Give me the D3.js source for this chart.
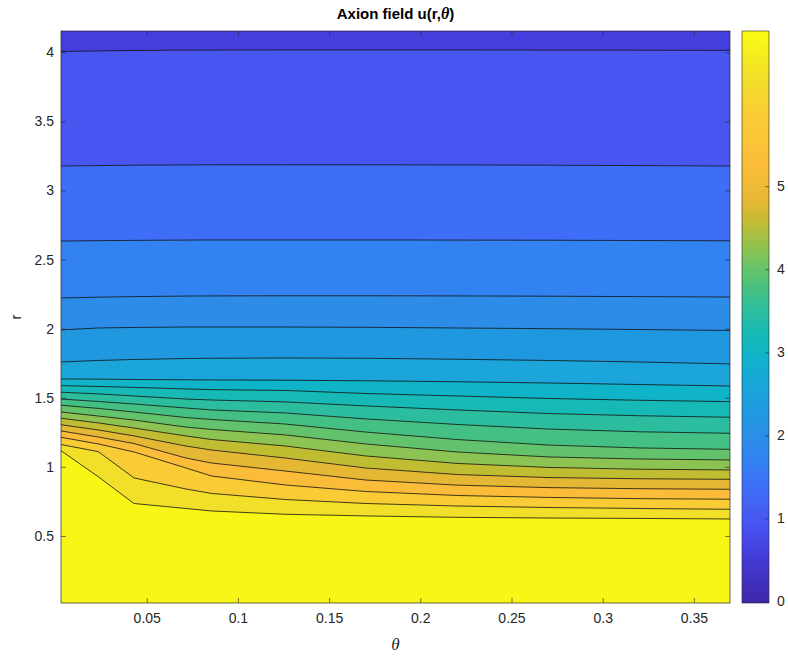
<!DOCTYPE html>
<html><head><meta charset="utf-8">
<script src="https://cdn.jsdelivr.net/npm/d3@7"></script>
<style>
body{margin:0;background:#fff}
text{font-family:Helvetica, Arial, "Liberation Sans", sans-serif;}
</style>
</head><body>
<svg id="c" width="788" height="656"></svg>
<script>
// ---------------- data ----------------
const theta = [0.003, 0.0235, 0.043, 0.0715, 0.0855, 0.126, 0.17, 0.22, 0.27, 0.32, 0.3698];
const thetaRange = [0.003, 0.3698];
const rRange = [0.015, 4.154];
const colorRange = [-0.02, 6.87];
const backgroundLevel = 0.60;
const contourLevels = [0.945, 1.36, 1.70, 1.94, 2.25, 2.56, 2.98, 3.22, 3.49, 3.74, 3.98, 4.25, 4.56, 4.80, 5.22, 5.84, 6.32, 6.77];
const r01 = [4.006, 4.010, 4.013, 4.016, 4.016, 4.017, 4.017, 4.017, 4.016, 4.015, 4.014];
const r02 = [3.177, 3.180, 3.183, 3.185, 3.186, 3.186, 3.186, 3.185, 3.183, 3.180, 3.177];
const r03 = [2.634, 2.637, 2.639, 2.641, 2.642, 2.642, 2.642, 2.641, 2.640, 2.638, 2.636];
const r04 = [2.222, 2.228, 2.232, 2.236, 2.237, 2.238, 2.238, 2.237, 2.235, 2.232, 2.229];
const r05 = [1.991, 2.005, 2.009, 2.012, 2.012, 2.012, 2.010, 2.005, 2.000, 1.994, 1.987];
const r06 = [1.759, 1.770, 1.777, 1.784, 1.786, 1.788, 1.786, 1.779, 1.770, 1.759, 1.745];
const r07 = [1.636, 1.635, 1.632, 1.630, 1.629, 1.627, 1.623, 1.616, 1.607, 1.596, 1.585];
const r08 = [1.588, 1.582, 1.575, 1.564, 1.559, 1.553, 1.531, 1.513, 1.495, 1.482, 1.472];
const r09 = [1.540, 1.528, 1.513, 1.491, 1.484, 1.470, 1.441, 1.412, 1.386, 1.370, 1.359];
const r10 = [1.491, 1.473, 1.455, 1.426, 1.412, 1.390, 1.347, 1.307, 1.274, 1.254, 1.243];
const r11 = [1.446, 1.423, 1.397, 1.357, 1.343, 1.310, 1.252, 1.198, 1.158, 1.137, 1.127];
const r12 = [1.397, 1.368, 1.339, 1.288, 1.271, 1.231, 1.166, 1.108, 1.072, 1.057, 1.050];
const r13 = [1.352, 1.318, 1.281, 1.224, 1.198, 1.151, 1.079, 1.025, 0.996, 0.983, 0.978];
const r14 = [1.305, 1.267, 1.224, 1.151, 1.122, 1.064, 0.992, 0.945, 0.923, 0.914, 0.910];
const r15 = [1.260, 1.216, 1.169, 1.064, 1.028, 0.970, 0.905, 0.868, 0.850, 0.842, 0.838];
const r16 = [1.214, 1.166, 1.108, 0.992, 0.934, 0.869, 0.822, 0.793, 0.779, 0.770, 0.766];
const r17 = [1.162, 1.110, 0.920, 0.840, 0.808, 0.764, 0.735, 0.717, 0.706, 0.699, 0.693];
const r18 = [1.117, 0.928, 0.735, 0.699, 0.681, 0.657, 0.645, 0.635, 0.630, 0.627, 0.623];
const contourR = [r01, r02, r03, r04, r05, r06, r07, r08, r09, r10, r11, r12, r13, r14, r15, r16, r17, r18];
const xTicks = [0.05, 0.1, 0.15, 0.2, 0.25, 0.3, 0.35];
const yTicks = [0.5, 1, 1.5, 2, 2.5, 3, 3.5, 4];
const cbTicks = [0, 1, 2, 3, 4, 5];
const titleMain = "Axion field u(r,";
const titleSym = "θ";
const xLabel = "θ";
const yLabel = "r";

// ---------------- style: parula-like colormap ----------------
const parulaStops = [
  [0.000, "#3e26a8"], [0.090, "#443ede"], [0.140, "#4855f0"], [0.200, "#3e6ef8"],
  [0.250, "#3282f2"], [0.285, "#2d8ce8"], [0.330, "#2098e0"], [0.375, "#1ba5da"],
  [0.435, "#0fb4c8"], [0.470, "#16b9b6"], [0.510, "#2cbd9f"], [0.545, "#44c084"],
  [0.580, "#62c36c"], [0.620, "#8cc352"], [0.665, "#c1bd33"], [0.700, "#e4b734"],
  [0.760, "#fbbc3a"], [0.850, "#f9cc35"], [0.920, "#f2df2a"], [0.985, "#f8f616"],
  [1.000, "#f9fb14"]
];
const parula = d3.scaleLinear()
  .domain(parulaStops.map(d => d[0]))
  .range(parulaStops.map(d => d[1]))
  .interpolate(d3.interpolateRgb).clamp(true);
const cnorm = d3.scaleLinear().domain(colorRange).range([0, 1]);
const cmap = v => parula(cnorm(v));

// ---------------- layout ----------------
const svg = d3.select("#c");
const P = {left: 61, right: 730, top: 31, bottom: 603};
const x = d3.scaleLinear().domain(thetaRange).range([P.left, P.right]);
const y = d3.scaleLinear().domain(rRange).range([P.bottom, P.top]);
const axisColor = "#262626";

svg.append("defs").append("clipPath").attr("id", "clip")
  .append("rect").attr("x", x(thetaRange[0])).attr("y", y(rRange[1]))
  .attr("width", x(thetaRange[1]) - x(thetaRange[0]))
  .attr("height", y(rRange[0]) - y(rRange[1]));

const plot = svg.append("g").attr("clip-path", "url(#clip)");
plot.append("rect")
  .attr("x", x(thetaRange[0])).attr("y", y(rRange[1]))
  .attr("width", x(thetaRange[1]) - x(thetaRange[0]))
  .attr("height", y(rRange[0]) - y(rRange[1]))
  .attr("fill", cmap(backgroundLevel));

const area = d3.area()
  .x((d, i) => x(theta[i]))
  .y0(y(rRange[0]))
  .y1(d => y(d));
const line = d3.line().x((d, i) => x(theta[i])).y(d => y(d));

contourR.forEach((rs, k) => {
  plot.append("path").attr("d", area(rs)).attr("fill", cmap(contourLevels[k]))
    .attr("stroke", cmap(contourLevels[k])).attr("stroke-width", 0.3);
});
contourR.forEach(rs => {
  plot.append("path").attr("d", line(rs)).attr("fill", "none")
    .attr("stroke", "#111").attr("stroke-width", 0.8);
});

// axes
function styleAxis(g) {
  g.selectAll("path.domain").remove();
  g.selectAll("line").attr("stroke", axisColor).attr("stroke-width", 0.6);
  g.selectAll("text").attr("fill", axisColor).attr("font-size", 14);
}
svg.append("g").attr("transform", `translate(0,${P.bottom})`)
  .call(d3.axisBottom(x).tickValues(xTicks).tickFormat(d3.format("")).tickSizeInner(-5).tickSizeOuter(0).tickPadding(10))
  .call(styleAxis);
svg.append("g").attr("transform", `translate(0,${P.top})`)
  .call(d3.axisTop(x).tickValues(xTicks).tickFormat("").tickSizeInner(-5).tickSizeOuter(0))
  .call(styleAxis);
svg.append("g").attr("transform", `translate(${P.left},0)`)
  .call(d3.axisLeft(y).tickValues(yTicks).tickFormat(d3.format("")).tickSizeInner(-5).tickSizeOuter(0).tickPadding(7))
  .call(styleAxis);
svg.append("g").attr("transform", `translate(${P.right},0)`)
  .call(d3.axisRight(y).tickValues(yTicks).tickFormat("").tickSizeInner(-5).tickSizeOuter(0))
  .call(styleAxis);
svg.append("rect").attr("x", P.left).attr("y", P.top)
  .attr("width", P.right - P.left).attr("height", P.bottom - P.top)
  .attr("fill", "none").attr("stroke", axisColor).attr("stroke-width", 0.7);

// title & labels
const title = svg.append("text").attr("x", (P.left + P.right) / 2).attr("y", 19)
  .attr("text-anchor", "middle").attr("font-size", 15).attr("font-weight", "bold").attr("fill", "#000");
title.append("tspan").text(titleMain);
title.append("tspan").attr("font-style", "italic").attr("font-family", "'Liberation Serif', serif").attr("font-size", 16).text(titleSym);
title.append("tspan").text(")");

svg.append("text").attr("x", (P.left + P.right) / 2).attr("y", 650)
  .attr("text-anchor", "middle").attr("font-size", 17).attr("font-style", "italic")
  .style("font-family", "'Liberation Serif', serif")
  .attr("fill", axisColor).text(xLabel);
svg.append("text").attr("transform", `translate(21,${(P.top + P.bottom) / 2}) rotate(-90)`)
  .attr("text-anchor", "middle").attr("font-size", 15).attr("fill", axisColor).text(yLabel);

// colorbar
const CB = {left: 742, right: 769, top: 31, bottom: 603};
const cy = d3.scaleLinear().domain(colorRange).range([CB.bottom, CB.top]);
const grad = svg.select("defs").append("linearGradient").attr("id", "cbgrad")
  .attr("x1", 0).attr("y1", 1).attr("x2", 0).attr("y2", 0);
d3.range(0, 1.0001, 0.01).forEach(t => {
  grad.append("stop").attr("offset", t).attr("stop-color", parula(t));
});
svg.append("rect").attr("x", CB.left).attr("y", cy(colorRange[1]))
  .attr("width", CB.right - CB.left).attr("height", cy(colorRange[0]) - cy(colorRange[1]))
  .attr("fill", "url(#cbgrad)").attr("stroke", axisColor).attr("stroke-width", 0.6);
svg.append("g").attr("transform", `translate(${CB.right},0)`)
  .call(d3.axisRight(cy).tickValues(cbTicks).tickFormat(d3.format("")).tickSizeInner(-4).tickSizeOuter(0).tickPadding(8))
  .call(styleAxis);
</script>
</body></html>
